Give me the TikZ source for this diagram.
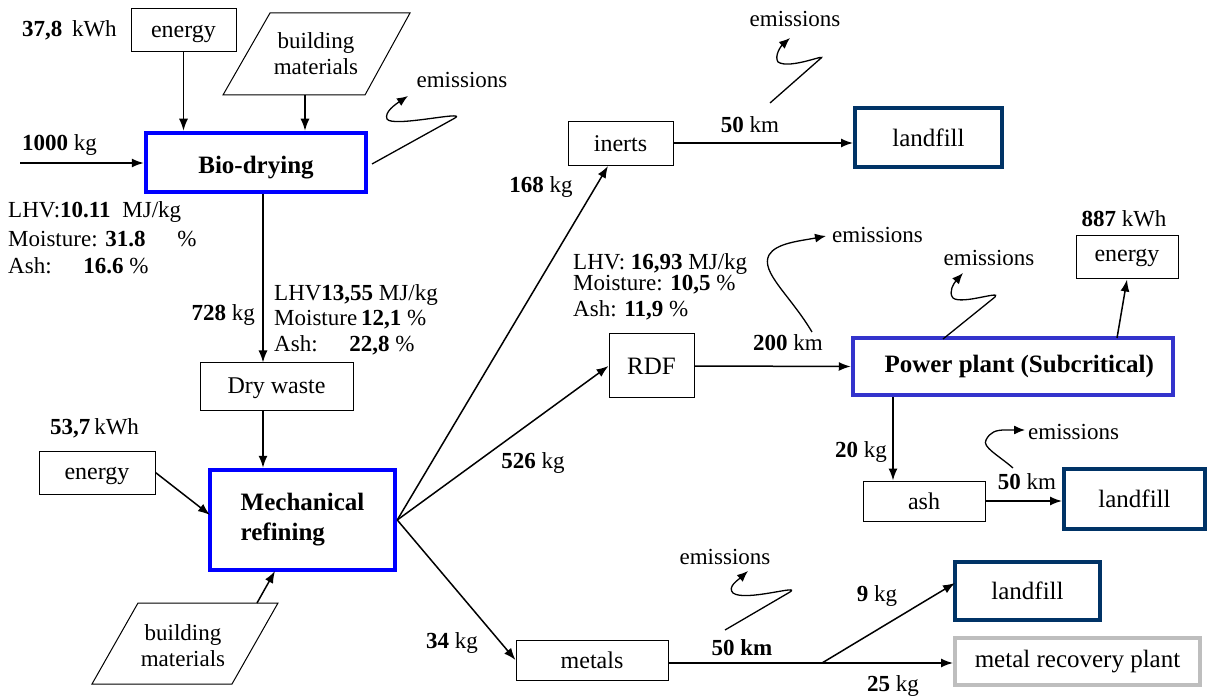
\documentclass[tikz,border=0pt]{standalone}
\usepackage{fontspec}
\setmainfont{Liberation Serif}
\usetikzlibrary{arrows.meta,calc}
\definecolor{bioblue}{RGB}{0,0,255}
\definecolor{ppblue}{RGB}{51,51,204}
\definecolor{navy}{RGB}{0,51,102}
\definecolor{lgray}{RGB}{190,190,190}
\tikzset{
  txt/.style={font=\fontsize{23}{26}\selectfont, inner sep=0pt},
  box/.style={draw, line width=1pt, font=\fontsize{24}{27}\selectfont, inner sep=0pt},
  procbox/.style={draw=bioblue, line width=4.5pt, font=\bfseries\fontsize{25}{30}\selectfont, inner sep=0pt, align=left},
  fillbox/.style={draw=navy, line width=4pt, font=\fontsize{25}{28}\selectfont, inner sep=0pt},
  arr/.style={line width=1.5pt, -{Latex[length=12pt,width=9pt]}},
  squig/.style={line width=1.3pt, -{Latex[length=11pt,width=9pt]}},
  plain/.style={line width=1.5pt}
}
\begin{document}
\begin{tikzpicture}[x=1pt,y=-1pt]
\useasboundingbox (0,0) rectangle (1210,700);

% ---------- Bio-drying stage ----------
\node[box, minimum width=105pt, minimum height=43pt, text height=20pt] (energy1) at (183.5,30.5) {energy};
\node[txt, anchor=west] (kwh1) at (22,30) {\textbf{37,8}\, kWh};
\draw[line width=1pt] (270,13) -- (410,13) -- (365,95) -- (223,95) -- cycle;
\node[txt, align=center] (bm1) at (316,54) {building\\materials};
\coordinate (bm1b) at (305,95);
\node[procbox, minimum width=220pt, minimum height=59pt, text height=28pt] (bio) at (256,162.5) {Bio-drying};
\draw[arr] (energy1.south) -- (energy1.south |- bio.north);
\draw[arr] (bm1b) -- (bm1b |- bio.north);
\coordinate (in1) at (20,163);
\draw[arr] (in1) -- (in1 -| bio.west);
\node[txt, anchor=west] (kg1000) at (22,145) {\textbf{1000} kg};
\coordinate (e1s) at (372,164);
\draw[squig] (e1s) -- (455,118) .. controls (468,110) and (392,128) .. (387,119) .. controls (384,112) and (396,104) .. (408,96);
\node[txt] (em1) at (462,80) {emissions};

\node[txt, anchor=west] (l1a) at (8,212) {LHV:\textbf{10.11}\hspace{6pt} MJ/kg};
\node[txt, anchor=west] (l1b) at (8,239) {Moisture: \textbf{31.8}\hspace{26pt} \%};
\node[txt, anchor=west] (l1c) at (8,266) {Ash:\hspace{24pt} \textbf{16.6} \%};

% ---------- Dry waste ----------
\node[box, minimum width=153pt, minimum height=47pt, text height=20pt] (dry) at (276.5,386.5) {Dry waste};
\coordinate (cx) at (263,0);
\draw[arr] (bio.south -| cx) -- (dry.north -| cx);
\node[txt, anchor=east] (kg728) at (255,315) {\textbf{728} kg};
\node[txt, anchor=west] (l2a) at (274,295) {LHV\textbf{13,55} MJ/kg};
\node[txt, anchor=west] (l2b) at (274,320) {Moisture\,\textbf{12,1} \%};
\node[txt, anchor=west] (l2c) at (274,345) {Ash:\hspace{24pt} \textbf{22,8} \%};

% ---------- Mechanical refining ----------
\node[procbox, minimum width=185pt, minimum height=100pt] (mech) at (302.5,520) {Mechanical\\refining};
\draw[arr] (dry.south -| cx) -- (mech.north -| cx);
\node[box, minimum width=116pt, minimum height=43pt, text height=20pt] (energy2) at (97,472.5) {energy};
\node[txt, anchor=west] (kwh2) at (50,428) {\textbf{53,7}\,kWh};
\coordinate (m2in) at (210,515);
\draw[arr] (energy2.east) -- (m2in);
\draw[line width=1pt] (138,603) -- (278,603) -- (232,684) -- (92,684) -- cycle;
\node[txt, align=center] (bm2) at (183,646) {building\\materials};
\coordinate (bm2t) at (257,603);
\coordinate (m2b) at (275,571);
\draw[arr] (bm2t) -- (m2b);

% ---------- Inerts ----------
\node[box, minimum width=105pt, minimum height=44pt] (inerts) at (620.5,144) {inerts};
\node[fillbox, minimum width=147pt, minimum height=59pt] (lf1) at (928.5,137.5) {landfill};
\coordinate (intip) at (608,166);
\draw[arr] (mech.east) -- (intip);
\node[txt] (kg168) at (541,187) {\textbf{168} kg};
\coordinate (iy) at (0,143);
\draw[arr] (inerts.east |- iy) -- (lf1.west |- iy);
\node[txt] (km50a) at (750,125) {\textbf{50} km};
\coordinate (e2s) at (770,103);
\draw[squig] (e2s) -- (820,59) .. controls (830,52) and (790,70) .. (778,62) .. controls (774,56) and (781,46) .. (790,38);
\node[txt] (em2) at (795,19) {emissions};

% ---------- RDF ----------
\node[box, font=\fontsize{25}{28}\selectfont, minimum width=85pt, minimum height=64pt] (rdf) at (651.5,366) {RDF};
\draw[arr] (mech.east) -- (rdf.west);
\node[txt] (kg526) at (533,463) {\textbf{526} kg};
\node[txt, anchor=west] (l3a) at (573,264) {LHV: \textbf{16,93} MJ/kg};
\node[txt, anchor=west] (l3b) at (573,285) {Moisture: \textbf{10,5} \%};
\node[txt, anchor=west] (l3c) at (573,310) {Ash: \textbf{11,9} \%};
\node[procbox, draw=ppblue, minimum width=320pt, minimum height=57pt] (pp) at (1013,366.5) {\ \ Power plant (Subcritical)};
\draw[arr] (rdf.east) -- (pp.west);
\node[txt] (km200) at (788,343) {\textbf{200} km};
\coordinate (e3s) at (812,332);
\draw[squig] (e3s) .. controls (790,295) and (760,272) .. (769,255) .. controls (776,243) and (800,241) .. (826,236);
\node[txt, anchor=west] (em3) at (832,235) {emissions};
\coordinate (e4s) at (943,339);
\draw[squig] (e4s) -- (995,297) .. controls (1002,290) and (962,305) .. (953,298) .. controls (948,292) and (954,283) .. (963,273);
\node[txt] (em4) at (989,258) {emissions};
\node[box, minimum width=102pt, minimum height=43pt] (energy3) at (1127,257.5) {energy};
\node[txt] (kwh3) at (1124,219) {\textbf{887} kWh};
\coordinate (ppe) at (1117,338);
\draw[arr] (ppe) -- (energy3.south);

% ---------- Ash ----------
\node[box, minimum width=122pt, minimum height=40pt] (ash) at (924,501) {ash};
\coordinate (ax) at (893,0);
\draw[arr] (pp.south -| ax) -- (ash.north -| ax);
\node[txt] (kg20) at (861,452) {\textbf{20} kg};
\node[fillbox, minimum width=141pt, minimum height=60pt] (lf2) at (1134.5,499) {landfill};
\draw[arr] (ash.east) -- (lf2.west |- ash.east);
\node[txt] (km50b) at (1027,482) {\textbf{50} km};
\coordinate (e5s) at (1013,468);
\draw[squig] (e5s) .. controls (998,455) and (982,447) .. (986,440) .. controls (990,432) and (996,430) .. (1005,430) -- (1025,430);
\node[txt, anchor=west] (em5) at (1028,432) {emissions};

% ---------- Metals ----------
\node[box, minimum width=152pt, minimum height=40pt] (metals) at (592,660) {metals};
\draw[arr] (mech.east) -- (metals.west);
\node[txt] (kg34) at (452,643) {\textbf{34} kg};
\node[fillbox, minimum width=145pt, minimum height=58pt] (lf3) at (1027.5,591) {landfill};
\node[box, draw=lgray, line width=4pt, font=\fontsize{25}{28}\selectfont, minimum width=245pt, minimum height=47pt] (mrp) at (1077.5,661.5) {metal recovery plant};
\coordinate (j) at (822,663);
\draw[plain] (metals.east |- j) -- (j);
\draw[arr] (j) -- (mrp.west |- j);
\coordinate (lf3in) at (955,583);
\draw[arr] (j) -- (lf3in);
\node[txt] (km50c) at (742,648) {\textbf{50 km}};
\node[txt] (kg9) at (877,596) {\textbf{9} kg};
\node[txt] (kg25) at (893,686) {\textbf{25} kg};
\coordinate (e6s) at (725,630);
\draw[squig] (e6s) -- (790,592) .. controls (802,584) and (745,602) .. (733,593) .. controls (727,587) and (738,580) .. (748,571);
\node[txt] (em6) at (725,557) {emissions};
\end{tikzpicture}
\end{document}
